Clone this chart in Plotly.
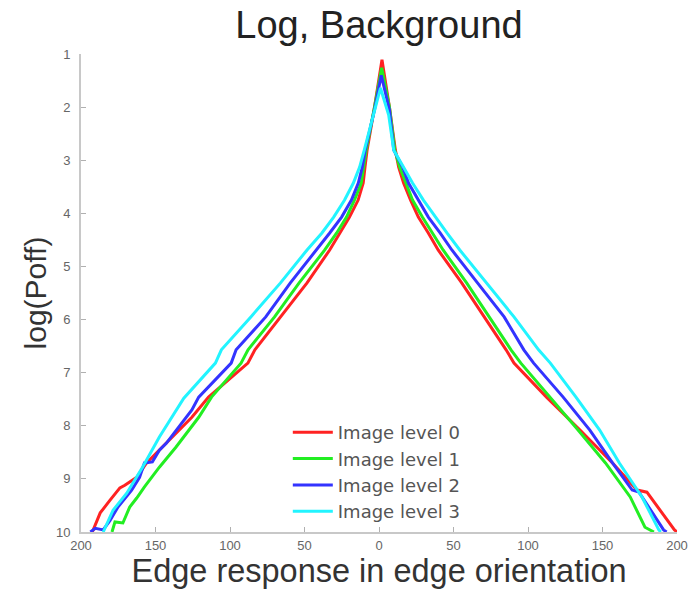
import plotly.graph_objects as go

# ---- data ----
red_x = [-192.4, -187.1, -180.5, -173.9, -170.6, -162.6, -156.0, -147.4, -138.8, -125.6, -114.4, -88.0, -83.3,
         -66.1, -48.3, -33.1, -26.4, -19.8, -14.0, -10.6, -9.4, -8.0, -3.0, 2.0, 7.0, 11.0, 13.2, 16.5, 21.2,
         26.4, 33.1, 39.7, 55.5, 70.7, 85.3, 90.6, 112.4, 134.9, 156.7, 173.2, 179.8, 198.3, 200.0]
red_y = [10.0, 9.64, 9.40, 9.17, 9.12, 8.97, 8.70, 8.46, 8.21, 7.84, 7.46, 6.82, 6.57,
         5.95, 5.31, 4.69, 4.37, 4.07, 3.75, 3.43, 3.13, 2.81, 2.0, 1.11, 2.0, 2.81, 3.13, 3.43, 3.75,
         4.07, 4.37, 4.69, 5.31, 5.95, 6.57, 6.82, 7.46, 8.08, 8.70, 9.21, 9.25, 9.96, 10.0]

green_x = [-179.2, -177.2, -171.9, -167.3, -162.6, -157.4, -147.4, -136.2, -121.0, -112.4, -92.6, -87.9,
           -70.1, -53.6, -36.4, -28.4, -21.8, -16.5, -11.9, -10.1, -8.6, -3.0, 1.8, 7.0, 10.6, 13.9, 17.9,
           22.5, 29.1, 35.7, 43.0, 58.8, 74.0, 88.6, 95.2, 115.0, 133.6, 152.0, 168.6, 178.5, 184.5]
green_y = [10.0, 9.81, 9.83, 9.53, 9.36, 9.15, 8.78, 8.40, 7.84, 7.46, 6.82, 6.57,
           5.95, 5.31, 4.69, 4.37, 4.07, 3.75, 3.43, 3.13, 2.81, 2.0, 1.26, 2.0, 2.81, 3.13, 3.43,
           3.75, 4.07, 4.37, 4.69, 5.31, 5.95, 6.57, 6.82, 7.46, 8.08, 8.70, 9.34, 9.91, 10.0]

blue_x = [-193.7, -190.4, -185.1, -180.5, -175.2, -166.0, -160.7, -157.4, -152.1, -147.4, -142.8, -137.5,
          -125.6, -121.0, -99.2, -95.9, -76.0, -59.5, -41.7, -33.1, -25.1, -18.5, -13.9, -11.2, -9.3, -3.0,
          1.5, 7.0, 9.9, 15.9, 19.8, 26.4, 33.1, 41.0, 48.9, 66.1, 84.0, 97.2, 103.8, 123.6, 141.5, 156.7,
          169.9, 174.5, 191.0, 193.0]
blue_y = [10.0, 9.93, 9.96, 9.78, 9.53, 9.21, 8.97, 8.70, 8.68, 8.46, 8.33, 8.14,
          7.70, 7.46, 6.82, 6.57, 5.95, 5.31, 4.69, 4.37, 4.07, 3.75, 3.43, 3.13, 2.81, 2.05,
          1.40, 2.05, 2.81, 3.13, 3.43, 3.75, 4.07, 4.37, 4.69, 5.31, 5.95, 6.57, 6.82, 7.46, 8.08, 8.70,
          9.21, 9.25, 9.96, 10.0]

cyan_x = [-185.1, -178.5, -169.3, -158.7, -147.4, -131.0, -109.8, -105.8, -86.0, -66.1, -48.3, -38.3,
          -30.4, -23.1, -17.2, -13.0, -9.9, -3.5, 1.0, 6.5, 9.9, 16.5, 22.5, 29.8, 37.7, 45.6, 54.2, 72.1,
          90.6, 107.1, 115.0, 132.2, 148.1, 161.3, 176.5, 187.8, 189.1]
cyan_y = [10.0, 9.59, 9.27, 8.78, 8.21, 7.48, 6.82, 6.57, 5.95, 5.31, 4.69, 4.37,
          4.07, 3.75, 3.43, 3.13, 2.81, 2.15, 1.64, 2.15, 2.81, 3.13, 3.43, 3.75, 4.07, 4.37, 4.69, 5.31,
          5.95, 6.57, 6.82, 7.46, 8.08, 8.70, 9.34, 9.96, 10.0]

series_names = ["Image level 0", "Image level 1", "Image level 2", "Image level 3"]
series_colors = ["#ff2222", "#22ee22", "#3333ff", "#22f4ff"]

x_tickvals = [-200, -150, -100, -50, 0, 50, 100, 150, 200]
x_ticktext = ["200", "150", "100", "50", "0", "50", "100", "150", "200"]
y_tickvals = [1, 2, 3, 4, 5, 6, 7, 8, 9, 10]

FONT = "Liberation Sans, Arial, sans-serif"
LEGEND_FONT = "DejaVu Sans, sans-serif"

fig = go.Figure()
for name, color, xs, ys in zip(series_names, series_colors,
                               [red_x, green_x, blue_x, cyan_x],
                               [red_y, green_y, blue_y, cyan_y]):
    fig.add_trace(go.Scatter(x=xs, y=ys, mode="lines", name=name,
                             line=dict(color=color, width=3)))

axis_common = dict(showgrid=False, zeroline=False, showline=True, linecolor="#c8c8c8", linewidth=2,
                   ticks="inside", ticklen=5, tickcolor="#b0b0b0", tickwidth=1,
                   tickfont=dict(family=FONT, size=13, color="#666666"))

fig.update_layout(
    width=700, height=594,
    paper_bgcolor="white", plot_bgcolor="white",
    margin=dict(l=81, r=14, t=54, b=62),
    title=dict(text="Log, Background", x=0.5, xref="paper", xanchor="center",
               y=0.981, yref="container", yanchor="top",
               font=dict(family=FONT, size=38, color="#222222")),
    xaxis=dict(range=[-200, 200], tickvals=x_tickvals, ticktext=x_ticktext,
               title=dict(text="Edge response in edge orientation", standoff=3,
                          font=dict(family=FONT, size=32.5, color="#333333")),
               **axis_common),
    yaxis=dict(range=[10, 1], tickvals=y_tickvals, ticklabelstandoff=6,
               title=dict(text="log(Poff)", standoff=0,
                          font=dict(family=FONT, size=30, color="#333333")),
               **axis_common),
    legend=dict(x=0.347, y=0.247, xanchor="left", yanchor="top",
                bgcolor="rgba(0,0,0,0)", borderwidth=0,
                font=dict(family=LEGEND_FONT, size=18, color="#555555"),
                tracegroupgap=0, itemwidth=40),
    showlegend=True,
)

fig.write_html("out.html")
